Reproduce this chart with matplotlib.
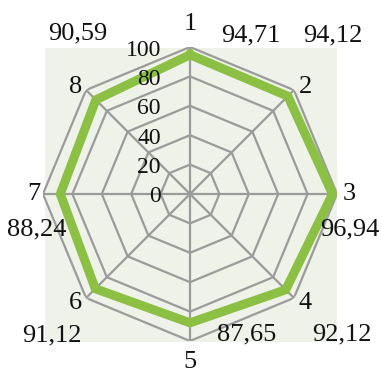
import numpy as np
import matplotlib.pyplot as plt
from matplotlib.patches import Rectangle

# data
categories = ['1', '2', '3', '4', '5', '6', '7', '8']
values = [94.71, 94.12, 96.94, 92.12, 87.65, 91.12, 88.24, 90.59]
value_labels = ['94,71', '94,12', '96,94', '92,12', '87,65', '91,12', '88,24', '90,59']
rings = [20, 40, 60, 80, 100]
ring_labels = ['0', '20', '40', '60', '80', '100']

W, H = 382, 374
# label centres in pixels (x, y from top)
cat_pos = [(190, 24), (305, 87), (349, 194), (305, 303),
           (190, 362), (75, 303), (34, 194), (76, 87)]
val_pos = [(251, 35), (333, 35), (350, 229), (342, 334),
           (247, 334), (52, 335), (37, 229), (78, 33)]

GRAY = '#9b9b9b'
GREEN = '#8cc045'
TXT = '#111111'
plt.rcParams['font.family'] = ['Liberation Serif', 'DejaVu Serif']

fig = plt.figure(figsize=(W / 100, H / 100), dpi=100)
fig.add_artist(Rectangle((45 / W, 1 - 342 / H), 292 / W, 294 / H,
                         transform=fig.transFigure, facecolor='#eef2e8',
                         edgecolor='none', zorder=0))

ax = fig.add_axes([43 / W, 1 - 341 / H, 294 / W, 294 / H], projection='polar')
ax.set_theta_zero_location('N')
ax.set_theta_direction(-1)
ax.set_ylim(0, 100)
ax.patch.set_visible(False)
ax.spines['polar'].set_visible(False)
ax.grid(False)
ax.set_xticks([])
ax.set_yticks([])

theta = np.arange(len(categories)) * 2 * np.pi / len(categories)
closed = np.append(theta, theta[0])

for r in rings:
    ax.plot(closed, [r] * len(closed), color=GRAY, lw=1.6, zorder=2)
for t in theta:
    ax.plot([t, t], [0, 100], color=GRAY, lw=1.6, zorder=2)

ax.plot(closed, values + values[:1], color=GREEN, lw=6.5, zorder=3,
        solid_joinstyle='miter')

for i, lab in enumerate(ring_labels):
    ax.annotate(lab, (0, i * 20), xytext=(-29, -3), textcoords='offset pixels',
                ha='right', va='center', fontsize=17, color=TXT, zorder=4)

for lab, (x, y) in zip(categories, cat_pos):
    fig.text(x / W, 1 - y / H, lab, ha='center', va='center',
             fontsize=19, color=TXT)
for lab, (x, y) in zip(value_labels, val_pos):
    fig.text(x / W, 1 - y / H, lab, ha='center', va='center',
             fontsize=19, color=TXT)

fig.savefig('out.png', dpi=100)
